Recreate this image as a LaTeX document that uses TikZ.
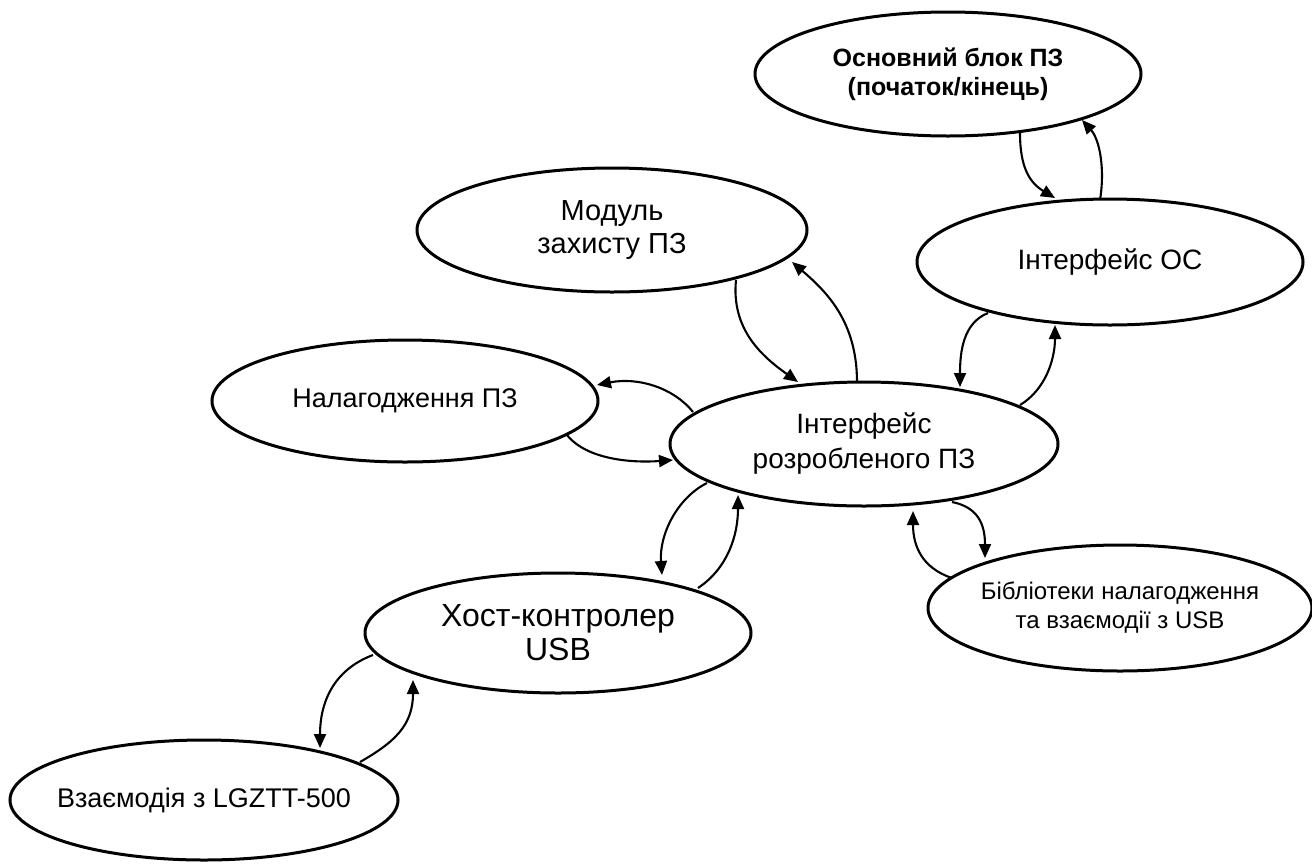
\documentclass[tikz,border=0pt]{standalone}
\usepackage{fontspec}
\setmainfont{Liberation Sans}
\usetikzlibrary{shapes.geometric,arrows.meta,calc}
\tikzset{
  blob/.style={ellipse, draw, line width=3pt, inner sep=0pt, align=center},
  link/.style={line width=2.1pt, -{Triangle[length=14pt,width=12pt]}},
}
\begin{document}
\begin{tikzpicture}[x=1pt,y=1pt]
\useasboundingbox (0,0) rectangle (1312,-863);
\node[blob, minimum width=386pt, minimum height=124pt, font=\fontsize{25}{29}\selectfont\bfseries] (A) at (948,-74) {Основний блок ПЗ\\(початок/кінець)};
\node[blob, minimum width=386pt, minimum height=126pt, font=\fontsize{28}{33}\selectfont] (B) at (1110,-262) {Інтерфейс ОС};
\node[blob, minimum width=390pt, minimum height=124pt, font=\fontsize{29}{33}\selectfont] (C) at (612,-230) {Модуль\\захисту ПЗ};
\node[blob, minimum width=386pt, minimum height=122pt, font=\fontsize{27}{32}\selectfont] (D) at (405,-401) {Налагодження ПЗ};
\node[blob, minimum width=388pt, minimum height=124pt, font=\fontsize{28}{35}\selectfont] (E) at (864,-444) {Інтерфейс\\розробленого ПЗ};
\node[blob, minimum width=386pt, minimum height=120pt, font=\fontsize{32}{34}\selectfont] (F) at (558,-633) {Хост-контролер\\USB};
\node[blob, inner xsep=-20pt, minimum width=384pt, minimum height=126pt, font=\fontsize{24}{29}\selectfont] (G) at (1120,-608) {Бібліотеки налагодження\\та взаємодії з USB};
\node[blob, inner xsep=-20pt, minimum width=388pt, minimum height=120pt, font=\fontsize{27}{30}\selectfont] (H) at (204,-800) {Взаємодія з LGZTT-500};

\draw[link] ($(A)+(72,-59)$) .. controls +(0,-35) and +(-25,15) .. ($(B)+(-55,64)$);
\draw[link] ($(B)+(-10,62)$) .. controls +(5,30) and +(18,-20) .. ($(A)+(134,-46)$);
\draw[link] ($(E)+(-7,62)$) .. controls +(0,60) and +(35,-30) .. ($(C)+(180,-32)$);
\draw[link] ($(C)+(124,-50)$) .. controls +(-5,-50) and +(-35,25) .. ($(E)+(-66,62)$);
\draw[link] ($(E)+(-171,32)$) .. controls +(-20,25) and +(40,8) .. ($(D)+(192,16)$);
\draw[link] ($(D)+(162,-34)$) .. controls +(20,-25) and +(-40,-3) .. ($(E)+(-191,-16)$);
\draw[link] ($(B)+(-122,-51)$) .. controls +(-25,-10) and +(0,35) .. ($(E)+(96,57)$);
\draw[link] ($(E)+(156,39)$) .. controls +(25,15) and +(0,-35) .. ($(B)+(-55,-63)$);
\draw[link] ($(E)+(-157,-39)$) .. controls +(-30,-15) and +(-3,40) .. ($(F)+(104,58)$);
\draw[link] ($(F)+(140,45)$) .. controls +(30,20) and +(0,-40) .. ($(E)+(-126,-51)$);
\draw[link] ($(E)+(88,-58)$) .. controls +(25,-5) and +(0,35) .. ($(G)+(-135,50)$);
\draw[link] ($(G)+(-168,30)$) .. controls +(-30,10) and +(0,-35) .. ($(E)+(49,-67)$);
\draw[link] ($(F)+(-185,-22)$) .. controls +(-40,-15) and +(0,45) .. ($(H)+(116,52)$);
\draw[link] ($(H)+(156,38)$) .. controls +(35,20) and +(0,-45) .. ($(F)+(-145,-47)$);
\end{tikzpicture}
\end{document}
